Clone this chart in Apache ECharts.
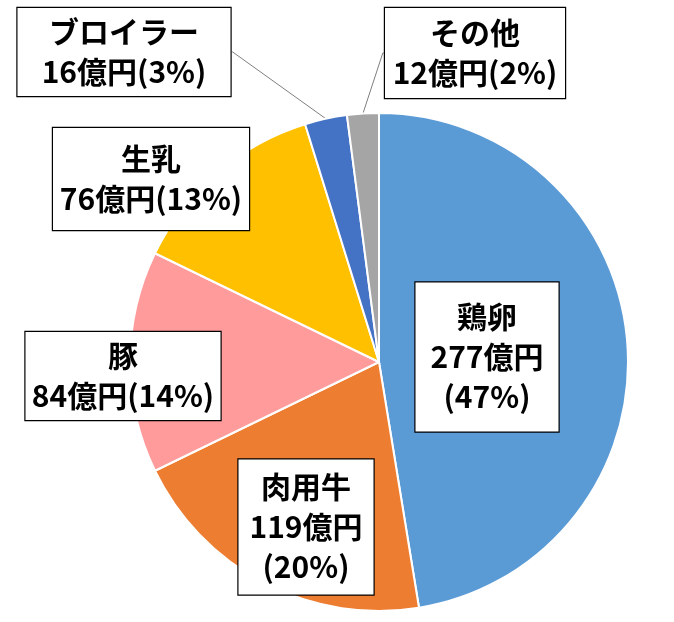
<!DOCTYPE html>
<html><head><meta charset="utf-8">
<script src="https://cdn.jsdelivr.net/npm/echarts@6/dist/echarts.min.js"></script>
<style>html,body{margin:0;padding:0;background:#fff}#c{width:674px;height:622px}</style>
</head><body><div id="c"></div>
<script>
const categories = ['鶏卵', '肉用牛', '豚', '生乳', 'ブロイラー', 'その他'];
const values = [277, 119, 84, 76, 16, 12];
const colors = ['#5B9BD5', '#ED7D31', '#FF9B9B', '#FFC000', '#4472C4', '#A5A5A5'];

// label box layout (centre x, centre y, width, height, lines, leader line)
const boxes = [
  { x: 487, y: 357, w: 145, h: 149, lines: 3, line: false },
  { x: 306, y: 527, w: 137, h: 135, lines: 3, line: false },
  { x: 123, y: 376, w: 197, h: 88, lines: 2, line: false },
  { x: 151, y: 179, w: 198, h: 102, lines: 2, line: false },
  { x: 124, y: 52, w: 215, h: 88, lines: 2, line: true },
  { x: 475, y: 53, w: 182, h: 90, lines: 2, line: true }
];
const total = values.reduce((a, b) => a + b, 0);
const LH = 40;

const data = categories.map((name, i) => {
  const b = boxes[i];
  const pv = (b.h - b.lines * LH) / 2;
  return {
    name, value: values[i],
    itemStyle: { color: colors[i] },
    label: { width: b.w - 2, padding: [pv, 0, pv, 0] },
    labelLine: { show: b.line }
  };
});

const chart = echarts.init(document.getElementById('c'), null, { renderer: 'canvas' });
chart.setOption({
  animation: false,
  series: [{
    type: 'pie',
    center: [379, 362],
    radius: 249,
    startAngle: 90,
    clockwise: true,
    data,
    itemStyle: { borderColor: '#fff', borderWidth: 2 },
    label: {
      show: true,
      position: 'outside',
      formatter: (p) => {
        const b = boxes[p.dataIndex];
        const pct = Math.round(p.value / total * 100);
        return b.lines === 3
          ? p.name + '\n' + p.value + '億円\n(' + pct + '%)'
          : p.name + '\n' + p.value + '億円(' + pct + '%)';
      },
      fontFamily: 'Noto Sans CJK JP',
      fontWeight: 'bold',
      fontSize: 30,
      lineHeight: LH,
      color: '#000',
      align: 'center',
      backgroundColor: '#fff',
      borderColor: '#000',
      borderWidth: 1.2
    },
    labelLine: { lineStyle: { color: '#7f7f7f', width: 1 }, length: 1, length2: 1, smooth: false },
    labelLayout: (params) => {
      const b = boxes[params.dataIndex];
      return { x: b.x, y: b.y, align: 'center', verticalAlign: 'middle' };
    }
  }]
});
</script></body></html>
